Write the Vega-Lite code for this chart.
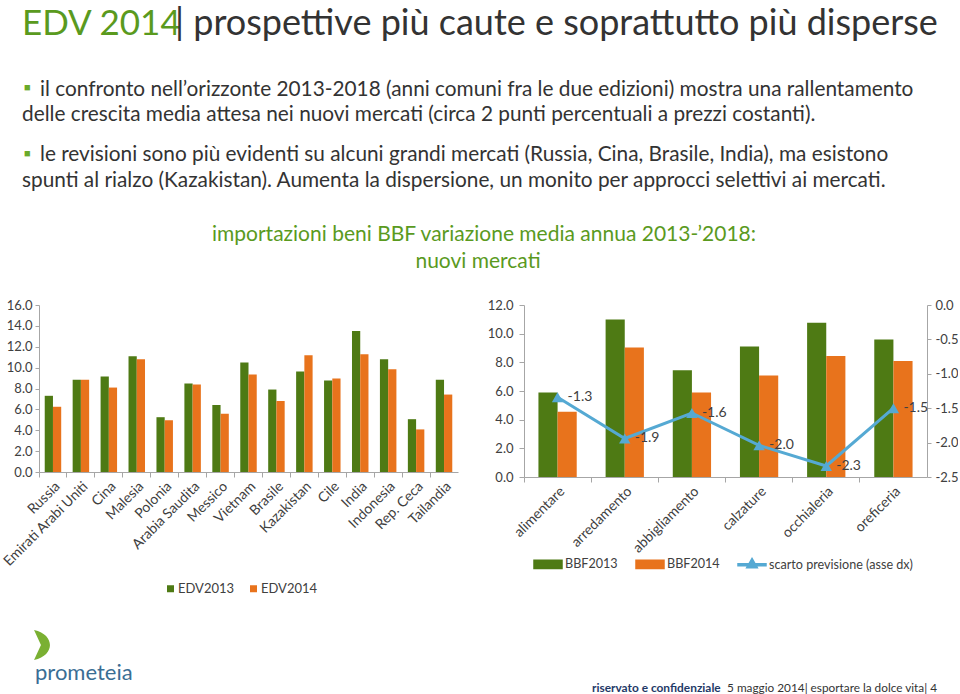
{
  "$schema": "https://vega.github.io/schema/vega-lite/v6.json",
  "padding": 0,
  "background": "white",
  "spacing": 0,
  "config": {
    "view": {"stroke": null},
    "font": "Lato",
    "locale": {"number": {"decimal": ".", "thousands": ",", "grouping": [3], "currency": ["", ""], "minus": "-"}},
    "axis": {"labelFont": "Lato", "labelColor": "#404040", "labelFontSize": 14, "domainColor": "#A6A6A6", "tickColor": "#A6A6A6", "grid": false, "title": null},
    "legend": {"labelFont": "Lato", "labelColor": "#404040", "labelFontSize": 13}
  },
  "vconcat": [
    {
      "width": 915,
      "height": 299,
      "layer": [
        {"data": {"values": [{"t": "EDV 2014"}]}, "mark": {"type": "text", "align": "left", "baseline": "alphabetic", "fontSize": 35, "color": "#5A9A1E"}, "encoding": {"text": {"field": "t"}, "x": {"value": -17}, "y": {"value": 35}}},
        {"data": {"values": [{"t": "| prospettive più caute e soprattutto più disperse"}]}, "mark": {"type": "text", "align": "left", "baseline": "alphabetic", "fontSize": 36, "color": "#333333"}, "encoding": {"text": {"field": "t"}, "x": {"value": 136}, "y": {"value": 35}}},
        {"data": {"values": [{"t": "■"}]}, "mark": {"type": "text", "align": "left", "baseline": "alphabetic", "fontSize": 11, "color": "#6AAA2A"}, "encoding": {"text": {"field": "t"}, "x": {"value": -15}, "y": {"value": 91}}},
        {"data": {"values": [{"t": "■"}]}, "mark": {"type": "text", "align": "left", "baseline": "alphabetic", "fontSize": 11, "color": "#6AAA2A"}, "encoding": {"text": {"field": "t"}, "x": {"value": -15}, "y": {"value": 157}}},
        {"data": {"values": [{"t": "il confronto nell’orizzonte 2013-2018 (anni comuni fra le due edizioni) mostra una rallentamento"}]}, "mark": {"type": "text", "align": "left", "baseline": "alphabetic", "fontSize": 20.8, "color": "#333333"}, "encoding": {"text": {"field": "t"}, "x": {"value": 1}, "y": {"value": 96}}},
        {"data": {"values": [{"t": "delle crescita media attesa nei nuovi mercati (circa 2 punti percentuali a prezzi costanti)."}]}, "mark": {"type": "text", "align": "left", "baseline": "alphabetic", "fontSize": 20.8, "color": "#333333"}, "encoding": {"text": {"field": "t"}, "x": {"value": -17}, "y": {"value": 121}}},
        {"data": {"values": [{"t": "le revisioni sono più evidenti su alcuni grandi mercati (Russia, Cina, Brasile, India), ma esistono"}]}, "mark": {"type": "text", "align": "left", "baseline": "alphabetic", "fontSize": 20.8, "color": "#333333"}, "encoding": {"text": {"field": "t"}, "x": {"value": 1}, "y": {"value": 161}}},
        {"data": {"values": [{"t": "spunti al rialzo (Kazakistan). Aumenta la dispersione, un monito per approcci selettivi ai mercati."}]}, "mark": {"type": "text", "align": "left", "baseline": "alphabetic", "fontSize": 20.8, "color": "#333333"}, "encoding": {"text": {"field": "t"}, "x": {"value": -17}, "y": {"value": 187}}},
        {"data": {"values": [{"t": "importazioni  beni BBF variazione media annua 2013-’2018:"}]}, "mark": {"type": "text", "align": "center", "baseline": "alphabetic", "fontSize": 21, "color": "#5A9A1E"}, "encoding": {"text": {"field": "t"}, "x": {"value": 445}, "y": {"value": 241}}},
        {"data": {"values": [{"t": "nuovi mercati"}]}, "mark": {"type": "text", "align": "center", "baseline": "alphabetic", "fontSize": 21, "color": "#5A9A1E"}, "encoding": {"text": {"field": "t"}, "x": {"value": 439}, "y": {"value": 268}}}
      ]
    },
    {
      "spacing": 29,
      "resolve": {"scale": {"color": "independent", "xOffset": "independent"}, "legend": {"color": "independent"}},
      "hconcat": [
        {
          "width": 419,
          "height": 167,
          "data": {"values": [
            {"paese": "Russia", "serie": "EDV2013", "valore": 7.3}, {"paese": "Russia", "serie": "EDV2014", "valore": 6.25},
            {"paese": "Emirati Arabi Uniti", "serie": "EDV2013", "valore": 8.85}, {"paese": "Emirati Arabi Uniti", "serie": "EDV2014", "valore": 8.85},
            {"paese": "Cina", "serie": "EDV2013", "valore": 9.14}, {"paese": "Cina", "serie": "EDV2014", "valore": 8.09},
            {"paese": "Malesia", "serie": "EDV2013", "valore": 11.08}, {"paese": "Malesia", "serie": "EDV2014", "valore": 10.8},
            {"paese": "Polonia", "serie": "EDV2013", "valore": 5.25}, {"paese": "Polonia", "serie": "EDV2014", "valore": 4.97},
            {"paese": "Arabia Saudita", "serie": "EDV2013", "valore": 8.47}, {"paese": "Arabia Saudita", "serie": "EDV2014", "valore": 8.38},
            {"paese": "Messico", "serie": "EDV2013", "valore": 6.43}, {"paese": "Messico", "serie": "EDV2014", "valore": 5.57},
            {"paese": "Vietnam", "serie": "EDV2013", "valore": 10.5}, {"paese": "Vietnam", "serie": "EDV2014", "valore": 9.33},
            {"paese": "Brasile", "serie": "EDV2013", "valore": 7.9}, {"paese": "Brasile", "serie": "EDV2014", "valore": 6.8},
            {"paese": "Kazakistan", "serie": "EDV2013", "valore": 9.62}, {"paese": "Kazakistan", "serie": "EDV2014", "valore": 11.18},
            {"paese": "Cile", "serie": "EDV2013", "valore": 8.76}, {"paese": "Cile", "serie": "EDV2014", "valore": 8.95},
            {"paese": "India", "serie": "EDV2013", "valore": 13.5}, {"paese": "India", "serie": "EDV2014", "valore": 11.27},
            {"paese": "Indonesia", "serie": "EDV2013", "valore": 10.8}, {"paese": "Indonesia", "serie": "EDV2014", "valore": 9.84},
            {"paese": "Rep. Ceca", "serie": "EDV2013", "valore": 5.06}, {"paese": "Rep. Ceca", "serie": "EDV2014", "valore": 4.08},
            {"paese": "Tailandia", "serie": "EDV2013", "valore": 8.85}, {"paese": "Tailandia", "serie": "EDV2014", "valore": 7.42}
          ]},
          "mark": {"type": "bar"},
          "encoding": {
            "x": {"field": "paese", "type": "nominal", "sort": null, "scale": {"paddingInner": 0.41, "paddingOuter": 0.205}, "axis": {"labelAngle": -45, "labelFontSize": 14, "bandPosition": -0.347, "tickSize": 5, "labelPadding": 2}},
            "xOffset": {"field": "serie", "type": "nominal", "sort": null},
            "y": {"field": "valore", "type": "quantitative", "scale": {"domain": [0, 16]}, "axis": {"values": [0, 2, 4, 6, 8, 10, 12, 14, 16], "format": ".1f", "labelFontSize": 13, "tickSize": 4, "labelPadding": 3, "minExtent": 0}},
            "color": {"field": "serie", "type": "nominal", "scale": {"domain": ["EDV2013", "EDV2014"], "range": ["#4E7A14", "#E8731C"]}, "legend": {"title": null, "orient": "none", "legendX": 125, "legendY": 277, "direction": "horizontal", "symbolType": "square", "symbolSize": 49, "symbolStrokeWidth": 0, "columnPadding": 12, "labelOffset": 1}}
          }
        },
        {
          "width": 403,
          "height": 172,
          "layer": [
            {
              "data": {"values": [
                {"settore": "alimentare", "serie": "BBF2013", "valore": 5.9}, {"settore": "alimentare", "serie": "BBF2014", "valore": 4.55},
                {"settore": "arredamento", "serie": "BBF2013", "valore": 10.98}, {"settore": "arredamento", "serie": "BBF2014", "valore": 9.03},
                {"settore": "abbigliamento", "serie": "BBF2013", "valore": 7.45}, {"settore": "abbigliamento", "serie": "BBF2014", "valore": 5.9},
                {"settore": "calzature", "serie": "BBF2013", "valore": 9.1}, {"settore": "calzature", "serie": "BBF2014", "valore": 7.08},
                {"settore": "occhialeria", "serie": "BBF2013", "valore": 10.77}, {"settore": "occhialeria", "serie": "BBF2014", "valore": 8.45},
                {"settore": "oreficeria", "serie": "BBF2013", "valore": 9.59}, {"settore": "oreficeria", "serie": "BBF2014", "valore": 8.1}
              ]},
              "mark": {"type": "bar"},
              "encoding": {
                "x": {"field": "settore", "type": "nominal", "scale": {"domain": ["alimentare", "arredamento", "abbigliamento", "calzature", "occhialeria", "oreficeria"], "paddingInner": 0.43, "paddingOuter": 0.215}, "axis": {"labelAngle": -45, "labelFontSize": 14, "bandPosition": -0.377, "tickSize": 5, "labelPadding": 2}},
                "xOffset": {"field": "serie", "type": "nominal", "sort": null},
                "y": {"field": "valore", "type": "quantitative", "scale": {"domain": [0, 12]}, "axis": {"values": [0, 2, 4, 6, 8, 10, 12], "format": ".1f", "labelFontSize": 13, "tickSize": 5, "labelPadding": 6, "minExtent": 0}},
                "color": {"field": "serie", "type": "nominal", "scale": {"domain": ["BBF2013", "BBF2014", "scarto previsione (asse dx)"], "range": ["#4E7A14", "#E8731C", "#55A9D3"]}, "legend": {"title": null, "orient": "none", "legendX": 9, "legendY": 244, "direction": "horizontal", "symbolSize": 784, "columnPadding": 15, "labelOffset": 2, "labelFontSize": 12.6, "encode": {"symbols": {"update": {"shape": [{"test": "datum.label === 'scarto previsione (asse dx)'", "value": "M-1,-0.07H1V0.07H-1Z M0,-0.45L0.38,0.22H-0.38Z"}, {"value": "M-1,-0.3H1V0.3H-1Z"}], "fill": {"scale": "color", "field": "value"}, "stroke": {"value": "transparent"}, "opacity": {"value": 1}, "fillOpacity": {"value": 1}}}}}}
              }
            },
            {
              "data": {"values": [
                {"settore": "alimentare", "scarto": -1.34},
                {"settore": "arredamento", "scarto": -1.94},
                {"settore": "abbigliamento", "scarto": -1.57},
                {"settore": "calzature", "scarto": -2.04},
                {"settore": "occhialeria", "scarto": -2.34},
                {"settore": "oreficeria", "scarto": -1.5}
              ]},
              "encoding": {
                "x": {"field": "settore", "type": "nominal"},
                "y": {"field": "scarto", "type": "quantitative", "scale": {"domain": [-2.5, 0]}, "axis": {"orient": "right", "values": [0, -0.5, -1, -1.5, -2, -2.5], "format": ".1f", "labelFontSize": 13, "tickSize": 4, "labelPadding": 4, "minExtent": 0}}
              },
              "layer": [
                {"mark": {"type": "line", "strokeWidth": 3}, "encoding": {"color": {"datum": "scarto previsione (asse dx)"}}},
                {"mark": {"type": "point", "shape": "triangle-up", "filled": true, "size": 130, "opacity": 1}, "encoding": {"color": {"datum": "scarto previsione (asse dx)"}}},
                {"mark": {"type": "text", "align": "left", "baseline": "middle", "dx": 10, "fontSize": 14, "color": "#404040"}, "encoding": {"text": {"field": "scarto", "type": "quantitative", "format": ".1f"}}}
              ]
            }
          ],
          "resolve": {"scale": {"y": "independent"}}
        }
      ]
    },
    {
      "width": 915,
      "height": 104,
      "layer": [
        {"data": {"values": [{"t": "prometeia"}]}, "mark": {"type": "text", "align": "left", "baseline": "alphabetic", "fontSize": 22, "color": "#3A6E94"}, "encoding": {"text": {"field": "t"}, "x": {"value": -4}, "y": {"value": 84}}},
        {"data": {"values": [{"t": "logo"}]}, "mark": {"type": "point", "filled": true, "size": 900, "opacity": 1, "color": "#7AB032", "shape": "M-0.53,-1 C0.2,-0.85 0.53,-0.4 0.53,0 C0.53,0.4 0.2,0.85 -0.53,1 L-0.07,0 Z"}, "encoding": {"x": {"value": 3}, "y": {"value": 49}}},
        {"data": {"values": [{"t": "riservato e confidenziale"}]}, "mark": {"type": "text", "align": "left", "baseline": "alphabetic", "fontSize": 11.9, "fontWeight": "bold", "color": "#1F3A68"}, "encoding": {"text": {"field": "t"}, "x": {"value": 553}, "y": {"value": 96}}},
        {"data": {"values": [{"t": "5 maggio 2014| esportare la dolce vita| 4"}]}, "mark": {"type": "text", "align": "right", "baseline": "alphabetic", "fontSize": 11.8, "color": "#333333"}, "encoding": {"text": {"field": "t"}, "x": {"value": 898}, "y": {"value": 96}}}
      ]
    }
  ]
}
